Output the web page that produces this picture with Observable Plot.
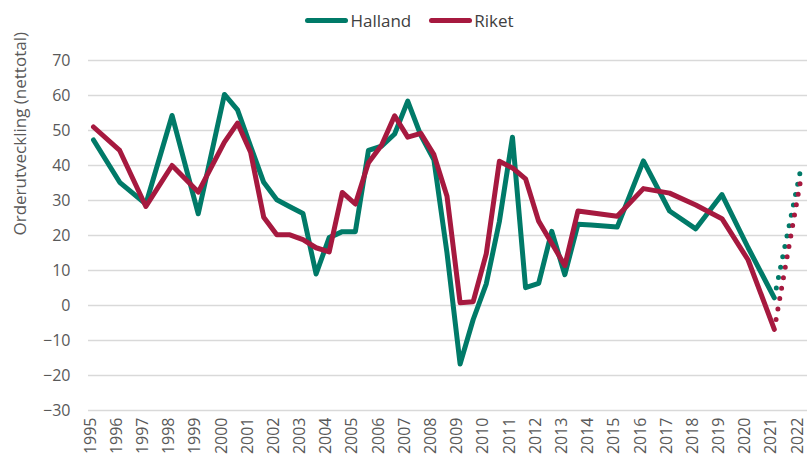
<!DOCTYPE html>
<html>
<head>
<meta charset="utf-8">
<script src="https://cdn.jsdelivr.net/npm/d3@7"></script>
<script src="https://cdn.jsdelivr.net/npm/@observablehq/plot@0.6"></script>
<style>
  html, body { margin: 0; padding: 0; background: #fff; }
  body { width: 807px; height: 462px; overflow: hidden; font-family: "Open Sans", sans-serif; }
  #legend { height: 40px; display: flex; align-items: center; justify-content: center; padding-left: 12px; box-sizing: border-box; font-size: 17px; color: #404040; }
  .item { display: flex; align-items: center; margin: 0 9px; }
  .sw { width: 43px; height: 5px; border-radius: 3px; margin-right: 2px; }
  #chart svg { overflow: visible; display: block; }
</style>
</head>
<body>
<div id="legend"></div>
<div id="chart"></div>
<script>
// ---- data ----
const periods = [1995, 1996, 1997, 1998, 1999, 2000, 2000.5, 2001, 2001.5, 2002, 2002.5, 2003, 2003.5, 2004, 2004.5, 2005, 2005.5, 2006, 2006.5, 2007, 2007.5, 2008, 2008.5, 2009, 2009.5, 2010, 2010.5, 2011, 2011.5, 2012, 2012.5, 2013, 2013.5, 2014, 2015, 2016, 2017, 2018, 2019, 2020, 2021];
const halland = [47.3, 35.2, 29, 54.3, 26.2, 60.3, 55.9, 45.5, 35.2, 30.2, 28.2, 26.3, 9, 19.4, 21.1, 21.1, 44.3, 45.5, 49, 58.4, 48.6, 41.6, 15, -16.7, -4, 6.2, 24, 48.1, 5.1, 6.3, 21.2, 8.8, 23.2, 23, 22.4, 41.3, 27, 21.9, 31.7, 16.5, 2.2];
const riket = [51, 44.3, 28.3, 40, 32.4, 46.7, 52.1, 43.8, 25.2, 20.2, 20.2, 18.8, 16.5, 15.3, 32.3, 29, 40.8, 45.8, 54.2, 48.1, 49.2, 43.1, 31.2, 0.8, 1.1, 14.8, 41.2, 39.3, 36.2, 24.1, 17.8, 11.4, 27, 26.5, 25.5, 33.4, 32.1, 28.7, 24.8, 13, -6.8];
const forecastPeriods = [2021, 2022];
const hallandForecast = [2.2, 38.6];
const riketForecast = [-6.8, 35.6];
const seriesNames = ["Halland", "Riket"];
const yTicks = [-30, -20, -10, 0, 10, 20, 30, 40, 50, 60, 70];
const yearTicks = d3.range(1995, 2023);
const yTitle = "Orderutveckling (nettotal)";

const colors = { Halland: "#007A68", Riket: "#A6193F" };

const rows = [];
periods.forEach((p, i) => {
  rows.push({ x: p, y: halland[i], s: "Halland" });
  rows.push({ x: p, y: riket[i], s: "Riket" });
});
const frows = [];
forecastPeriods.forEach((p, i) => {
  frows.push({ x: p, y: hallandForecast[i], s: "Halland" });
  frows.push({ x: p, y: riketForecast[i], s: "Riket" });
});

// legend
const legend = document.getElementById("legend");
seriesNames.forEach(n => {
  const it = document.createElement("div");
  it.className = "item";
  it.innerHTML = `<span class="sw" style="background:${colors[n]}"></span><span>${n}</span>`;
  legend.appendChild(it);
});

const chart = Plot.plot({
  width: 807,
  height: 422,
  marginLeft: 88,
  marginRight: 0,
  marginTop: 20,
  marginBottom: 52,
  x: { domain: [1994.809, 2022.267] },
  y: { domain: [-30, 70] },
  style: { fontFamily: "Open Sans", fontSize: "16px", color: "#595959", background: "#fff" },
  marks: [
    Plot.ruleY(yTicks, { stroke: "#d9d9d9", strokeWidth: 1.3 }),
    Plot.axisY({ ticks: yTicks, tickSize: 0, tickPadding: 18, label: null, fontSize: 16 }),
    Plot.axisX({ ticks: yearTicks, tickFormat: d => String(d), tickRotate: -90, tickSize: 0, tickPadding: 7, label: null, fontSize: 16, dx: -3 }),
    Plot.text([yTitle], { text: d => d, frameAnchor: "left", rotate: -90, dx: -68, fontSize: 17, fill: "#595959" }),
    Plot.line(frows, { x: "x", y: "y", z: "s", stroke: d => colors[d.s], strokeWidth: 5, strokeLinecap: "round", strokeDasharray: "0 10.6", strokeDashoffset: -10 }),
    Plot.line(rows, { x: "x", y: "y", z: "s", stroke: d => colors[d.s], strokeWidth: 5, strokeLinejoin: "round", strokeLinecap: "round" })
  ]
});
document.getElementById("chart").appendChild(chart);
</script>
</body>
</html>
